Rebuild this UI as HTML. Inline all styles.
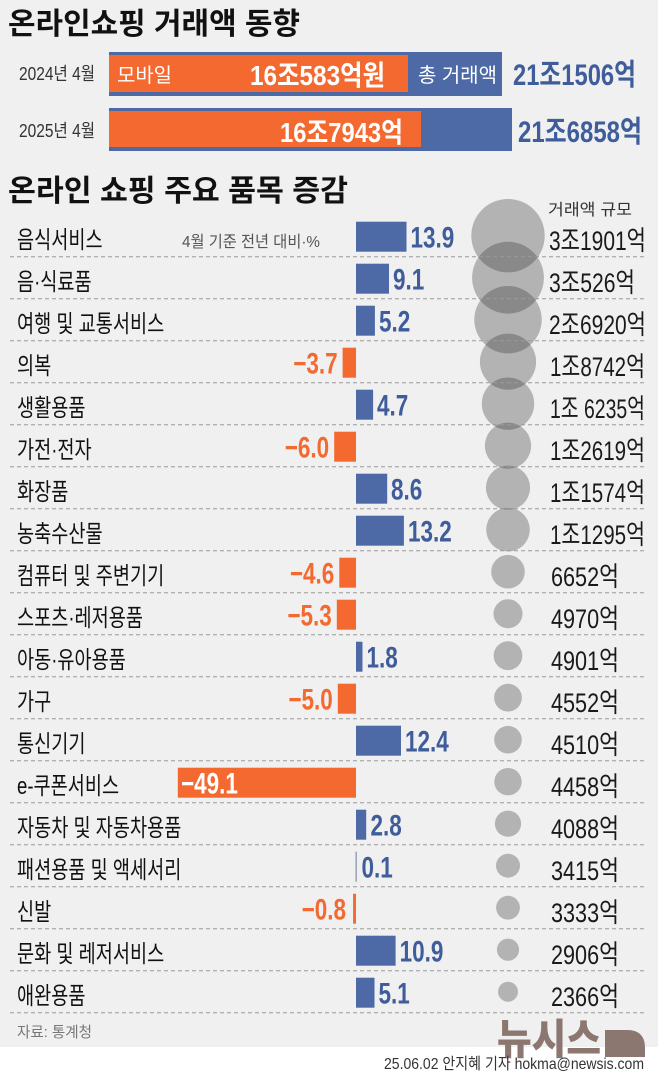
<!DOCTYPE html>
<html><head><meta charset="utf-8">
<style>
html,body{margin:0;padding:0;background:#fff;}
svg{display:block;}
.k{font-family:"Liberation Sans","Noto Sans CJK KR",sans-serif;}
.lab{font-family:"Liberation Sans","Noto Sans CJK KR",sans-serif;font-size:24px;fill:#111;}
.vp{font-family:"Liberation Sans","Noto Sans CJK KR",sans-serif;font-size:30px;font-weight:700;fill:#3f5c9b;}
.vn{font-family:"Liberation Sans","Noto Sans CJK KR",sans-serif;font-size:30px;font-weight:700;fill:#f26a30;text-anchor:end;}
.rv{font-family:"Liberation Sans","Noto Sans CJK KR",sans-serif;font-size:27px;fill:#1a1a1a;}
</style></head>
<body>
<svg width="658" height="1075" viewBox="0 0 658 1075" xmlns="http://www.w3.org/2000/svg">
<rect x="0" y="0" width="658" height="1047" fill="#f0f0f0"/>
<rect x="0" y="1047" width="658" height="28" fill="#ffffff"/>

<text class="k" x="8" y="34" font-size="30" font-weight="700" fill="#111" textLength="292" lengthAdjust="spacingAndGlyphs">온라인쇼핑 거래액 동향</text>

<text class="k" x="19" y="80" font-size="18" fill="#333" textLength="76" lengthAdjust="spacingAndGlyphs">2024년 4월</text>
<rect x="109" y="52" width="393" height="44" fill="#4d6aa6"/>
<rect x="109" y="55" width="299" height="37" fill="#f3692f"/>
<text class="k" x="117" y="82" font-size="20" fill="#fff" textLength="55" lengthAdjust="spacingAndGlyphs">모바일</text>
<text class="k" x="250" y="85" font-size="28" font-weight="700" fill="#fff" textLength="135" lengthAdjust="spacingAndGlyphs">16조583억원</text>
<text class="k" x="418" y="82" font-size="20" fill="#fff" textLength="79" lengthAdjust="spacingAndGlyphs">총 거래액</text>
<text class="k" x="513" y="85" font-size="30" font-weight="700" fill="#3f5c9b" textLength="123" lengthAdjust="spacingAndGlyphs">21조1506억</text>

<text class="k" x="19" y="137" font-size="18" fill="#333" textLength="76" lengthAdjust="spacingAndGlyphs">2025년 4월</text>
<rect x="109" y="108" width="403" height="43" fill="#4d6aa6"/>
<rect x="109" y="111" width="312" height="36" fill="#f3692f"/>
<text class="k" x="280" y="142" font-size="28" font-weight="700" fill="#fff" textLength="123" lengthAdjust="spacingAndGlyphs">16조7943억</text>
<text class="k" x="518" y="142" font-size="30" font-weight="700" fill="#3f5c9b" textLength="124" lengthAdjust="spacingAndGlyphs">21조6858억</text>

<text class="k" x="8" y="201" font-size="30" font-weight="700" fill="#111" textLength="340" lengthAdjust="spacingAndGlyphs">온라인 쇼핑 주요 품목 증감</text>

<text class="k" x="182" y="247" font-size="16" fill="#555" textLength="138" lengthAdjust="spacingAndGlyphs">4월 기준 전년 대비·%</text>
<text class="k" x="548" y="215" font-size="16" fill="#333" textLength="84" lengthAdjust="spacingAndGlyphs">거래액 규모</text>

<g fill="rgba(40,40,40,0.3)">
<circle cx="508" cy="235.7" r="36.7"/>
<circle cx="508" cy="277.7" r="35.9"/>
<circle cx="508" cy="319.7" r="33.7"/>
<circle cx="508" cy="361.7" r="28.1"/>
<circle cx="508" cy="403.7" r="26.2"/>
<circle cx="508" cy="445.7" r="23.1"/>
<circle cx="508" cy="487.7" r="22.1"/>
<circle cx="508" cy="529.7" r="21.8"/>
<circle cx="508" cy="571.7" r="16.8"/>
<circle cx="508" cy="613.7" r="14.5"/>
<circle cx="508" cy="655.7" r="14.4"/>
<circle cx="508" cy="697.7" r="13.9"/>
<circle cx="508" cy="739.7" r="13.8"/>
<circle cx="508" cy="781.7" r="13.7"/>
<circle cx="508" cy="823.7" r="13.1"/>
<circle cx="508" cy="865.7" r="12.0"/>
<circle cx="508" cy="907.7" r="11.9"/>
<circle cx="508" cy="949.7" r="11.1"/>
<circle cx="508" cy="991.7" r="10.0"/>
</g>

<g stroke="#9a9a9a" stroke-width="1" stroke-dasharray="4 3">
<line x1="10" x2="645" y1="256.7" y2="256.7"/>
<line x1="10" x2="645" y1="298.7" y2="298.7"/>
<line x1="10" x2="645" y1="340.7" y2="340.7"/>
<line x1="10" x2="645" y1="382.7" y2="382.7"/>
<line x1="10" x2="645" y1="424.7" y2="424.7"/>
<line x1="10" x2="645" y1="466.7" y2="466.7"/>
<line x1="10" x2="645" y1="508.7" y2="508.7"/>
<line x1="10" x2="645" y1="550.7" y2="550.7"/>
<line x1="10" x2="645" y1="592.7" y2="592.7"/>
<line x1="10" x2="645" y1="634.7" y2="634.7"/>
<line x1="10" x2="645" y1="676.7" y2="676.7"/>
<line x1="10" x2="645" y1="718.7" y2="718.7"/>
<line x1="10" x2="645" y1="760.7" y2="760.7"/>
<line x1="10" x2="645" y1="802.7" y2="802.7"/>
<line x1="10" x2="645" y1="844.7" y2="844.7"/>
<line x1="10" x2="645" y1="886.7" y2="886.7"/>
<line x1="10" x2="645" y1="928.7" y2="928.7"/>
<line x1="10" x2="645" y1="970.7" y2="970.7"/>
<line x1="10" x2="645" y1="1012.7" y2="1012.7"/>
</g>

<text class="lab" transform="translate(17,248) scale(0.775,1)">음식서비스</text>
<text class="lab" transform="translate(17,290) scale(0.775,1)">음·식료품</text>
<text class="lab" transform="translate(17,332) scale(0.775,1)">여행 및 교통서비스</text>
<text class="lab" transform="translate(17,374) scale(0.775,1)">의복</text>
<text class="lab" transform="translate(17,416) scale(0.775,1)">생활용품</text>
<text class="lab" transform="translate(17,458) scale(0.775,1)">가전·전자</text>
<text class="lab" transform="translate(17,500) scale(0.775,1)">화장품</text>
<text class="lab" transform="translate(17,542) scale(0.775,1)">농축수산물</text>
<text class="lab" transform="translate(17,584) scale(0.775,1)">컴퓨터 및 주변기기</text>
<text class="lab" transform="translate(17,626) scale(0.775,1)">스포츠·레저용품</text>
<text class="lab" transform="translate(17,668) scale(0.775,1)">아동·유아용품</text>
<text class="lab" transform="translate(17,710) scale(0.775,1)">가구</text>
<text class="lab" transform="translate(17,752) scale(0.775,1)">통신기기</text>
<text class="lab" transform="translate(17,794) scale(0.775,1)">e-쿠폰서비스</text>
<text class="lab" transform="translate(17,836) scale(0.775,1)">자동차 및 자동차용품</text>
<text class="lab" transform="translate(17,878) scale(0.775,1)">패션용품 및 액세서리</text>
<text class="lab" transform="translate(17,920) scale(0.775,1)">신발</text>
<text class="lab" transform="translate(17,962) scale(0.775,1)">문화 및 레저서비스</text>
<text class="lab" transform="translate(17,1004) scale(0.775,1)">애완용품</text>

<g fill="#4d6aa6">
<rect x="356" y="221.7" width="50.5" height="30"/>
<rect x="356" y="263.7" width="33" height="30"/>
<rect x="356" y="305.7" width="18.9" height="30"/>
<rect x="356" y="389.7" width="17.1" height="30"/>
<rect x="356" y="473.7" width="31.2" height="30"/>
<rect x="356" y="515.7" width="47.9" height="30"/>
<rect x="356" y="641.7" width="6.5" height="30"/>
<rect x="356" y="725.7" width="45" height="30"/>
<rect x="356" y="809.7" width="10.2" height="30"/>
<rect x="355.5" y="851.7" width="1.3" height="30" fill="#8a96b0"/>
<rect x="356" y="935.7" width="39.6" height="30"/>
<rect x="356" y="977.7" width="18.5" height="30"/>
</g>
<g fill="#f3692f">
<rect x="342.6" y="347.7" width="13.4" height="30"/>
<rect x="334.2" y="431.7" width="21.8" height="30"/>
<rect x="339.3" y="557.7" width="16.7" height="30"/>
<rect x="336.8" y="599.7" width="19.2" height="30"/>
<rect x="337.8" y="683.7" width="18.2" height="30"/>
<rect x="177.8" y="767.7" width="178.2" height="30"/>
<rect x="353.1" y="893.7" width="2.9" height="30"/>
</g>

<text class="vp" transform="translate(410.5,247.7) scale(0.75,1)">13.9</text>
<text class="vp" transform="translate(393,289.7) scale(0.75,1)">9.1</text>
<text class="vp" transform="translate(379,331.7) scale(0.75,1)">5.2</text>
<text class="vn" transform="translate(337.6,373.7) scale(0.75,1)">−3.7</text>
<text class="vp" transform="translate(377,415.7) scale(0.75,1)">4.7</text>
<text class="vn" transform="translate(329.2,457.7) scale(0.75,1)">−6.0</text>
<text class="vp" transform="translate(391,499.7) scale(0.75,1)">8.6</text>
<text class="vp" transform="translate(408,541.7) scale(0.75,1)">13.2</text>
<text class="vn" transform="translate(334.3,583.7) scale(0.75,1)">−4.6</text>
<text class="vn" transform="translate(331.8,625.7) scale(0.75,1)">−5.3</text>
<text class="vp" transform="translate(366.5,667.7) scale(0.75,1)">1.8</text>
<text class="vn" transform="translate(332.8,709.7) scale(0.75,1)">−5.0</text>
<text class="vp" transform="translate(405,751.7) scale(0.75,1)">12.4</text>
<text class="vp" transform="translate(181,793.7) scale(0.75,1)" style="fill:#fff">−49.1</text>
<text class="vp" transform="translate(370.5,835.7) scale(0.75,1)">2.8</text>
<text class="vp" transform="translate(361.5,877.7) scale(0.75,1)">0.1</text>
<text class="vn" transform="translate(346,919.7) scale(0.75,1)">−0.8</text>
<text class="vp" transform="translate(399.6,961.7) scale(0.75,1)">10.9</text>
<text class="vp" transform="translate(378.5,1003.7) scale(0.75,1)">5.1</text>

<text class="rv" x="549" y="250" textLength="97" lengthAdjust="spacingAndGlyphs">3조1901억</text>
<text class="rv" x="549" y="292" textLength="86" lengthAdjust="spacingAndGlyphs">3조526억</text>
<text class="rv" x="549" y="334" textLength="97" lengthAdjust="spacingAndGlyphs">2조6920억</text>
<text class="rv" x="550" y="376" textLength="95" lengthAdjust="spacingAndGlyphs">1조8742억</text>
<text class="rv" x="550" y="418" textLength="95" lengthAdjust="spacingAndGlyphs">1조 6235억</text>
<text class="rv" x="550" y="460" textLength="95" lengthAdjust="spacingAndGlyphs">1조2619억</text>
<text class="rv" x="550" y="502" textLength="95" lengthAdjust="spacingAndGlyphs">1조1574억</text>
<text class="rv" x="550" y="544" textLength="95" lengthAdjust="spacingAndGlyphs">1조1295억</text>
<text class="rv" x="551" y="586" textLength="68" lengthAdjust="spacingAndGlyphs">6652억</text>
<text class="rv" x="551" y="628" textLength="68" lengthAdjust="spacingAndGlyphs">4970억</text>
<text class="rv" x="551" y="670" textLength="68" lengthAdjust="spacingAndGlyphs">4901억</text>
<text class="rv" x="551" y="712" textLength="68" lengthAdjust="spacingAndGlyphs">4552억</text>
<text class="rv" x="551" y="754" textLength="68" lengthAdjust="spacingAndGlyphs">4510억</text>
<text class="rv" x="551" y="796" textLength="68" lengthAdjust="spacingAndGlyphs">4458억</text>
<text class="rv" x="551" y="838" textLength="68" lengthAdjust="spacingAndGlyphs">4088억</text>
<text class="rv" x="551" y="880" textLength="68" lengthAdjust="spacingAndGlyphs">3415억</text>
<text class="rv" x="551" y="922" textLength="68" lengthAdjust="spacingAndGlyphs">3333억</text>
<text class="rv" x="551" y="964" textLength="68" lengthAdjust="spacingAndGlyphs">2906억</text>
<text class="rv" x="551" y="1006" textLength="68" lengthAdjust="spacingAndGlyphs">2366억</text>

<text class="k" x="17" y="1037" font-size="15" fill="#777" textLength="75" lengthAdjust="spacingAndGlyphs">자료: 통계청</text>
<text class="k" x="497" y="1054" font-size="42" font-weight="900" fill="#8b7770" textLength="104" lengthAdjust="spacingAndGlyphs">뉴시스</text>
<path d="M605 1030 H627 Q645 1030 645 1048 V1057 H605 Z" fill="#8b7770"/>
<text class="k" x="384" y="1069" font-size="16" fill="#333" textLength="260" lengthAdjust="spacingAndGlyphs">25.06.02 안지혜 기자 hokma@newsis.com</text>
</svg>
</body></html>
